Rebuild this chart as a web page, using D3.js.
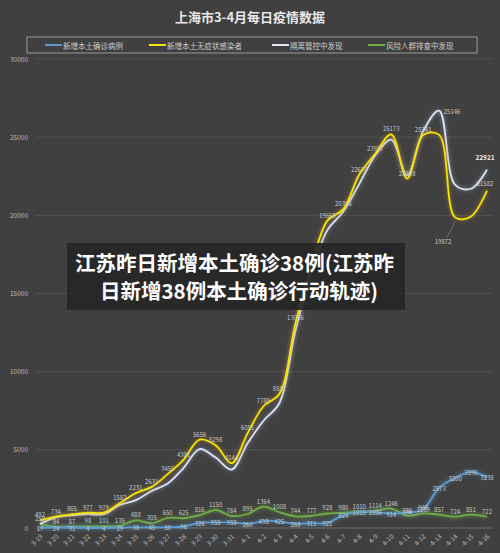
<!DOCTYPE html>
<html><head><meta charset="utf-8">
<script src="https://cdn.jsdelivr.net/npm/d3@7"></script>
<style>
body{margin:0;background:#404040;font-family:"Noto Sans CJK SC","Noto Sans",sans-serif;}
</style></head><body><svg id="c" width="500" height="553"></svg>
<script>
// data
const dates = ["3-19","3-20","3-21","3-22","3-23","3-24","3-25","3-26","3-27","3-28","3-29","3-30","3-31",
  "4-1","4-2","4-3","4-4","4-5","4-6","4-7","4-8","4-9","4-10","4-11","4-12","4-13","4-14","4-15","4-16"];
const confirmed = [17,24,31,4,4,29,38,45,50,96,326,355,358,260,438,425,268,311,322,824,1015,1006,914,994,1189,2573,3200,3590,3238];
const asymptomatic = [492,734,865,977,979,1582,2231,2631,3450,4381,5656,5298,4144,6051,7788,8581,13086,16766,19660,20398,22609,23937,25173,22348,25141,25146,19872,19923,21582];
const quarantined = [260,674,809,883,882,1476,1781,2376,2850,3852,5050,4503,3738,5416,6862,7998,12610,16300,19054,20242,22014,23829,24841,22556,25390,26700,21950,21700,22921];
const screening = [250,84,87,98,101,135,488,305,650,625,816,1150,764,895,1364,1008,744,777,928,980,1010,1114,1246,786,940,857,724,851,722];
const seriesNames = ["新增本土确诊病例","新增本土无症状感染者","隔离管控中发现","风险人群排查中发现"];
const colors = ["#5b9bd5","#f2e600","#dde3ee","#70ad47"];
const glows = ["#5b9bd5","#c08020","#8aa0c8","#70ad47"];

const svg = d3.select("#c");
svg.append("rect").attr("width",500).attr("height",553).attr("fill","#404040");
const defs = svg.append("defs");
glows.forEach((g,i) => {
  const f = defs.append("filter").attr("id","g"+i).attr("x","-10%").attr("y","-10%").attr("width","120%").attr("height","120%");
  f.append("feGaussianBlur").attr("in","SourceAlpha").attr("stdDeviation",2.2).attr("result","b");
  f.append("feFlood").attr("flood-color",g).attr("flood-opacity",0.9);
  f.append("feComposite").attr("in2","b").attr("operator","in").attr("result","c");
  const m = f.append("feMerge");
  m.append("feMergeNode").attr("in","c");
  m.append("feMergeNode").attr("in","SourceGraphic");
});

svg.append("text").attr("x",250).attr("y",22).attr("text-anchor","middle")
  .attr("fill","#e8e8e8").attr("font-size",13).attr("font-weight","bold").text("上海市3-4月每日疫情数据");

// legend
svg.append("rect").attr("x",27).attr("y",37).attr("width",450).attr("height",16)
  .attr("fill","none").attr("stroke","#999");
const lx = [45,149,272,368];
seriesNames.forEach((n,i) => {
  svg.append("line").attr("x1",lx[i]).attr("x2",lx[i]+17).attr("y1",45).attr("y2",45)
    .attr("stroke",colors[i]).attr("stroke-width",2);
  svg.append("text").attr("x",lx[i]+18).attr("y",48.5).attr("fill","#ccc").attr("font-size",7.5).text(n);
});

const x = d3.scalePoint().domain(dates).range([40,487]);
const y = d3.scaleLinear().domain([0,30000]).range([528,59]);

y.ticks(6).forEach(t => {
  svg.append("line").attr("x1",35).attr("x2",492).attr("y1",y(t)).attr("y2",y(t))
    .attr("stroke", t === 0 ? "#777" : "#575757").attr("stroke-width",0.8);
  svg.append("text").attr("x",28).attr("y",y(t)+2.5).attr("text-anchor","end")
    .attr("fill","#bbb").attr("font-size",6.5).text(t);
});
dates.forEach(d => {
  svg.append("text").attr("transform",`translate(${x(d)+3},${537}) rotate(-45)`)
    .attr("text-anchor","end").attr("fill","#bbb").attr("font-size",6.5).text(d);
});

const line = d3.line().x((d,i) => x(dates[i])).y(d => y(d)).curve(d3.curveCatmullRom.alpha(0.5));
const all = [confirmed,asymptomatic,quarantined,screening];
[3,0,2,1].forEach(i => {
  svg.append("path").attr("d",line(all[i])).attr("fill","none")
    .attr("stroke",colors[i]).attr("stroke-width",1.8).attr("filter",`url(#g${i})`);
});

function label(v, px, py) {
  svg.append("text").attr("x",px).attr("y",py).attr("text-anchor","middle")
    .attr("fill","#c8c8c8").attr("font-size",6).text(v);
}
asymptomatic.forEach((v,i) => { if (i < 25) label(v, x(dates[i]), y(v) - 3); });
confirmed.forEach((v,i) => label(v, x(dates[i]), y(v) + 3));
screening.forEach((v,i) => label(v, x(dates[i]), y(v) - 3));
label(asymptomatic[25], x(dates[25]) + 13, y(quarantined[25]) + 3);
label(asymptomatic[26], x(dates[26]) - 12, y(asymptomatic[26]) + 27);
svg.append("line").attr("x1",x(dates[26])-8).attr("y1",y(asymptomatic[26])+20)
  .attr("x2",x(dates[26])).attr("y2",y(asymptomatic[26])+4).attr("stroke","#888").attr("stroke-width",0.6);
label(asymptomatic[28], x(dates[28]) - 2, y(asymptomatic[28]) - 5);
svg.append("text").attr("x",x(dates[28])-2).attr("y",y(quarantined[28])-10).attr("text-anchor","middle")
  .attr("fill","#eee").attr("font-size",6.5).attr("font-weight","bold").text(quarantined[28]);

// overlay banner
svg.append("rect").attr("x",67).attr("y",243).attr("width",338).attr("height",67).attr("fill","#262626").attr("opacity",0.92);
svg.append("text").attr("x",75).attr("y",271).attr("fill","#fff").attr("font-size",20.5).attr("font-weight","bold")
  .text("江苏昨日新增本土确诊38例(江苏昨");
svg.append("text").attr("x",100).attr("y",299).attr("fill","#fff").attr("font-size",20.5).attr("font-weight","bold")
  .text("日新增38例本土确诊行动轨迹)");
</script></body></html>
